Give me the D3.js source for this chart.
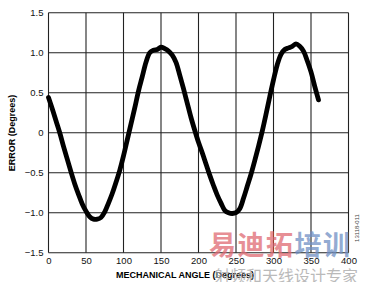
<!DOCTYPE html>
<html>
<head>
<meta charset="utf-8">
<script src="https://cdn.jsdelivr.net/npm/d3@7"></script>
<style>
  body { margin: 0; background: #fff; }
  svg { display: block; font-family: "Liberation Sans", Arial, sans-serif; }
</style>
</head>
<body>
<script>
// mechanical angle (degrees) and error (degrees)
const angle = [0, 5, 10, 15, 20, 25, 30, 35, 40, 45, 50, 55, 60, 65, 70, 75, 80, 85, 90, 95,
  100, 105, 110, 115, 120, 125, 130, 135, 140, 145, 150, 155, 160, 165, 170, 175, 180, 185, 190, 195,
  200, 205, 210, 215, 220, 225, 230, 235, 240, 245, 250, 255, 260, 265, 270, 275, 280, 285, 290, 295,
  300, 305, 310, 315, 320, 325, 330, 335, 340, 345, 350, 355, 360];
const error = [0.44, 0.30, 0.15, 0.0, -0.17, -0.33, -0.49, -0.64, -0.77, -0.89, -0.98, -1.05, -1.08, -1.08, -1.06, -0.99, -0.88, -0.76, -0.62, -0.47,
  -0.29, -0.09, 0.11, 0.31, 0.52, 0.70, 0.88, 1.00, 1.03, 1.04, 1.07, 1.05, 1.02, 0.97, 0.88, 0.72, 0.55, 0.37, 0.19, 0.03,
  -0.12, -0.25, -0.39, -0.53, -0.66, -0.78, -0.88, -0.97, -1.00, -1.01, -1.00, -0.95, -0.82, -0.67, -0.52, -0.35, -0.17, 0.02, 0.23, 0.45,
  0.66, 0.85, 0.98, 1.04, 1.06, 1.08, 1.11, 1.08, 1.02, 0.90, 0.76, 0.58, 0.41];
const xTicks = [0, 50, 100, 150, 200, 250, 300, 350, 400];
const yTicks = [-1.5, -1.0, -0.5, 0, 0.5, 1.0, 1.5];

const width = 365, height = 282;
const margin = { top: 12.7, right: 16.5, bottom: 29.3, left: 48.5 };

const svg = d3.select('body').append('svg')
    .attr('width', width)
    .attr('height', height);

const x = d3.scaleLinear().domain([0, 400]).range([margin.left, width - margin.right]);
const y = d3.scaleLinear().domain([-1.5, 1.5]).range([height - margin.bottom, margin.top]);

const fmt = d => d === 0 ? '0' : d3.format('.1f')(d).replace('-', '\u2013');

// grid
svg.append('g')
  .selectAll('line')
  .data(xTicks)
  .join('line')
    .attr('x1', d => x(d)).attr('x2', d => x(d))
    .attr('y1', y(-1.5)).attr('y2', y(1.5))
    .attr('stroke', '#222').attr('stroke-width', 1.1);

svg.append('g')
  .selectAll('line')
  .data(yTicks)
  .join('line')
    .attr('x1', x(0)).attr('x2', x(400))
    .attr('y1', d => y(d)).attr('y2', d => y(d))
    .attr('stroke', '#222').attr('stroke-width', 1.1);

// axes labels
const xAxis = svg.append('g')
    .attr('transform', 'translate(0,' + y(-1.5) + ')')
    .call(d3.axisBottom(x).tickValues(xTicks).tickSize(0).tickPadding(5).tickFormat(d => d));
const yAxis = svg.append('g')
    .attr('transform', 'translate(' + x(0) + ',0)')
    .call(d3.axisLeft(y).tickValues(yTicks).tickSize(0).tickPadding(5).tickFormat(fmt));
[xAxis, yAxis].forEach(a => {
  a.select('.domain').remove();
  a.selectAll('text')
    .attr('font-size', 9.5)
    .attr('font-family', '"Liberation Sans", Arial, sans-serif')
    .attr('fill', '#111');
});

// curve
const line = d3.line()
    .x((d, i) => x(angle[i]))
    .y(d => y(d))
    .curve(d3.curveCatmullRom);

svg.append('path')
    .datum(error)
    .attr('d', line)
    .attr('fill', 'none')
    .attr('stroke', '#000')
    .attr('stroke-width', 4.8)
    .attr('stroke-linejoin', 'round')
    .attr('stroke-linecap', 'round');

// titles
svg.append('text')
    .attr('x', 185).attr('y', 278)
    .attr('text-anchor', 'middle')
    .attr('font-size', 9).attr('font-weight', 'bold')
    .text('MECHANICAL ANGLE (Degrees)');

svg.append('text')
    .attr('transform', 'translate(15,133) rotate(-90)')
    .attr('text-anchor', 'middle')
    .attr('font-size', 9).attr('font-weight', 'bold')
    .text('ERROR (Degrees)');

svg.append('text')
    .attr('transform', 'translate(359,228) rotate(-90)')
    .attr('text-anchor', 'middle')
    .attr('font-size', 6)
    .attr('fill', '#444')
    .text('13118-011');

// watermark
const wm = svg.append('text')
    .attr('x', 209).attr('y', 255)
    .attr('font-family', '"Noto Sans CJK SC", sans-serif')
    .attr('font-weight', 'bold')
    .attr('font-size', 27)
    .attr('letter-spacing', 1.5)
    .attr('opacity', 0.75);
wm.append('tspan').attr('fill', '#e06a72').text('易迪拓');
wm.append('tspan').attr('fill', '#6f8fc4').text('培训');

svg.append('text')
    .attr('x', 214).attr('y', 282)
    .attr('font-family', '"Noto Sans CJK SC", sans-serif')
    .attr('font-size', 16)
    .attr('fill', '#aaa')
    .attr('opacity', 0.8)
    .text('射频和天线设计专家');
</script>
</body>
</html>
